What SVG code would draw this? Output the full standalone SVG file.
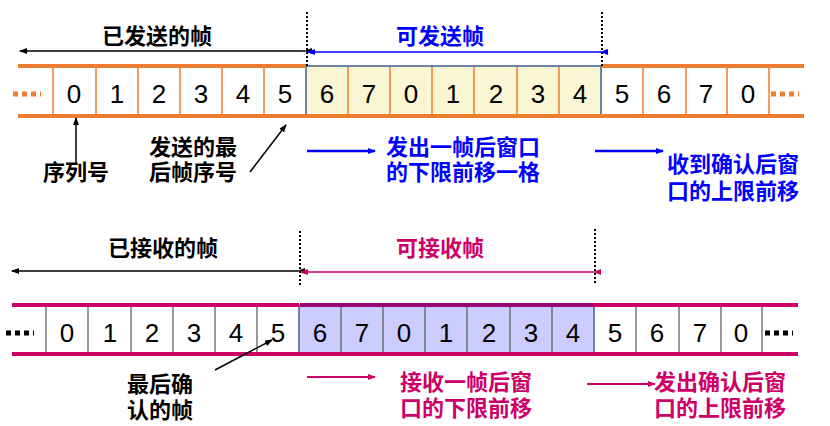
<svg xmlns="http://www.w3.org/2000/svg" width="830" height="426" viewBox="0 0 830 426">
<defs>
<marker id="ak" markerWidth="8" markerHeight="6" refX="7" refY="3" orient="auto" markerUnits="userSpaceOnUse"><path d="M0,0L8,3L0,6z" fill="#000"/></marker>
<marker id="ab" markerWidth="8" markerHeight="6" refX="7" refY="3" orient="auto" markerUnits="userSpaceOnUse"><path d="M0,0L8,3L0,6z" fill="#0000FF"/></marker>
<marker id="ap" markerWidth="8" markerHeight="6" refX="7" refY="3" orient="auto" markerUnits="userSpaceOnUse"><path d="M0,0L8,3L0,6z" fill="#CC0066"/></marker>
</defs>
<style>
text{font-family:"Liberation Sans","Noto Sans CJK SC",sans-serif;}
.n{font-size:26px;text-anchor:middle;fill:#000}
.c{font-size:22px;font-family:"Noto Sans CJK SC",sans-serif;font-weight:700}
.dot{stroke:#000;stroke-width:2;stroke-dasharray:2 2}
</style>
<g id="sender">
<rect x="306" y="66" width="295" height="50" fill="#FAF5D2" stroke="#3F5F8F" stroke-width="1.5"/>
<g stroke="#ED7D31" stroke-width="1.5">
<line x1="53" y1="66" x2="53" y2="116"/><line x1="96" y1="66" x2="96" y2="116"/><line x1="138" y1="66" x2="138" y2="116"/><line x1="180" y1="66" x2="180" y2="116"/><line x1="222" y1="66" x2="222" y2="116"/><line x1="264" y1="66" x2="264" y2="116"/>
<line x1="348" y1="67" x2="348" y2="115"/><line x1="390" y1="67" x2="390" y2="115"/><line x1="432" y1="67" x2="432" y2="115"/><line x1="474" y1="67" x2="474" y2="115"/><line x1="517" y1="67" x2="517" y2="115"/><line x1="559" y1="67" x2="559" y2="115"/>
<line x1="643" y1="66" x2="643" y2="116"/><line x1="686" y1="66" x2="686" y2="116"/><line x1="727" y1="66" x2="727" y2="116"/><line x1="769" y1="66" x2="769" y2="116"/>
</g>
<g stroke="#ED7D31" stroke-width="4">
<line x1="18" y1="66" x2="306" y2="66"/><line x1="18" y1="116" x2="804" y2="116"/><line x1="601" y1="66" x2="804" y2="66"/>
</g>
<g stroke="#ED7D31" stroke-width="5" stroke-dasharray="5 4"><line x1="13" y1="94" x2="41" y2="94"/><line x1="771" y1="94" x2="799" y2="94"/></g>
<g><text class="n" x="74" y="103">0</text><text class="n" x="117" y="103">1</text><text class="n" x="159" y="103">2</text><text class="n" x="201" y="103">3</text><text class="n" x="243" y="103">4</text><text class="n" x="285" y="103">5</text>
<text class="n" x="327" y="103">6</text><text class="n" x="369" y="103">7</text><text class="n" x="411" y="103">0</text><text class="n" x="453" y="103">1</text><text class="n" x="496" y="103">2</text><text class="n" x="538" y="103">3</text><text class="n" x="580" y="103">4</text>
<text class="n" x="622" y="103">5</text><text class="n" x="664" y="103">6</text><text class="n" x="706" y="103">7</text><text class="n" x="748" y="103">0</text></g>
</g>
<g id="receiver">
<rect x="299" y="305" width="295" height="49" fill="#CCCCFF" stroke="#4A5A9A" stroke-width="1.5"/>
<g stroke="#555" stroke-width="1.2">
<line x1="46" y1="305" x2="46" y2="354"/><line x1="88" y1="305" x2="88" y2="354"/><line x1="131" y1="305" x2="131" y2="354"/><line x1="173" y1="305" x2="173" y2="354"/><line x1="215" y1="305" x2="215" y2="354"/><line x1="257" y1="305" x2="257" y2="354"/>
<line x1="341" y1="306" x2="341" y2="353"/><line x1="383" y1="306" x2="383" y2="353"/><line x1="425" y1="306" x2="425" y2="353"/><line x1="467" y1="306" x2="467" y2="353"/><line x1="510" y1="306" x2="510" y2="353"/><line x1="552" y1="306" x2="552" y2="353"/>
<line x1="636" y1="305" x2="636" y2="354"/><line x1="679" y1="305" x2="679" y2="354"/><line x1="721" y1="305" x2="721" y2="354"/><line x1="762" y1="305" x2="762" y2="354"/>
</g>
<g stroke="#CC0066" stroke-width="4">
<line x1="12" y1="305" x2="299" y2="305"/><line x1="12" y1="354" x2="798" y2="354"/><line x1="594" y1="305" x2="798" y2="305"/>
</g>
<line x1="300" y1="305" x2="594" y2="305" stroke="#990077" stroke-width="4"/>
<g stroke="#000" stroke-width="5" stroke-dasharray="5 4"><line x1="6" y1="333" x2="34" y2="333"/><line x1="765" y1="333" x2="793" y2="333"/></g>
<g><text class="n" x="67" y="342">0</text><text class="n" x="110" y="342">1</text><text class="n" x="152" y="342">2</text><text class="n" x="194" y="342">3</text><text class="n" x="236" y="342">4</text><text class="n" x="278" y="342">5</text>
<text class="n" x="320" y="342">6</text><text class="n" x="362" y="342">7</text><text class="n" x="404" y="342">0</text><text class="n" x="446" y="342">1</text><text class="n" x="489" y="342">2</text><text class="n" x="531" y="342">3</text><text class="n" x="573" y="342">4</text>
<text class="n" x="615" y="342">5</text><text class="n" x="657" y="342">6</text><text class="n" x="700" y="342">7</text><text class="n" x="741" y="342">0</text></g>
</g>
<g id="connectors" stroke-width="1.5" fill="none">
<line class="dot" x1="307" y1="12" x2="307" y2="66"/><line class="dot" x1="602" y1="12" x2="602" y2="66"/>
<line class="dot" x1="300" y1="231" x2="300" y2="287"/><line class="dot" x1="595" y1="229" x2="595" y2="285"/>
<line x1="305" y1="51" x2="20" y2="51" stroke="#000" marker-start="url(#ak)" marker-end="url(#ak)"/>
<line x1="601" y1="52" x2="308" y2="52" stroke="#0000FF" marker-start="url(#ab)" marker-end="url(#ab)"/>
<line x1="298" y1="271" x2="12" y2="271" stroke="#000" marker-start="url(#ak)" marker-end="url(#ak)"/>
<line x1="594" y1="272" x2="301" y2="272" stroke="#CC0066" marker-start="url(#ap)" marker-end="url(#ap)"/>
<line x1="76" y1="165" x2="76" y2="118" stroke="#000" marker-end="url(#ak)"/>
<line x1="250" y1="172" x2="286" y2="125" stroke="#000" marker-end="url(#ak)"/>
<line x1="307" y1="151" x2="375" y2="151" stroke="#0000FF" stroke-width="2.5" marker-end="url(#ab)"/>
<line x1="595" y1="151" x2="663" y2="151" stroke="#0000FF" stroke-width="2.5" marker-end="url(#ab)"/>
<line x1="215" y1="370" x2="272" y2="340" stroke="#000" marker-end="url(#ak)"/>
<line x1="307" y1="377" x2="375" y2="377" stroke="#CC0066" stroke-width="2" marker-end="url(#ap)"/>
<line x1="587" y1="384" x2="655" y2="384" stroke="#CC0066" stroke-width="2" marker-end="url(#ap)"/>
</g>
<g id="labels">
<text class="c" x="157" y="44" text-anchor="middle">已发送的帧</text>
<text class="c" x="440" y="44" text-anchor="middle" fill="#0000FF">可发送帧</text>
<text class="c" x="163" y="256" text-anchor="middle">已接收的帧</text>
<text class="c" x="440" y="256" text-anchor="middle" fill="#CC0066">可接收帧</text>
<text class="c" x="76" y="180" text-anchor="middle">序列号</text>
<text class="c" x="193" y="155" text-anchor="middle">发送的最</text>
<text class="c" x="193" y="180" text-anchor="middle">后帧序号</text>
<text class="c" x="386" y="155" fill="#0000FF">发出一帧后窗口</text>
<text class="c" x="386" y="180" fill="#0000FF">的下限前移一格</text>
<text class="c" x="667" y="172" fill="#0000FF">收到确认后窗</text>
<text class="c" x="667" y="199" fill="#0000FF">口的上限前移</text>
<text class="c" x="160" y="392" text-anchor="middle">最后确</text>
<text class="c" x="160" y="418" text-anchor="middle">认的帧</text>
<text class="c" x="400" y="390" fill="#CC0066">接收一帧后窗</text>
<text class="c" x="400" y="416" fill="#CC0066">口的下限前移</text>
<text class="c" x="654" y="390" fill="#CC0066">发出确认后窗</text>
<text class="c" x="654" y="416" fill="#CC0066">口的上限前移</text>
</g>
</svg>
